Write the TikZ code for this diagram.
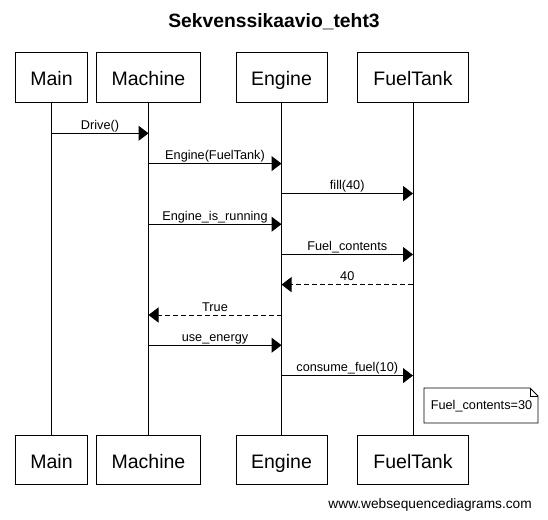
\documentclass[tikz,border=0pt]{standalone}
\usepackage{fontspec}
\setmainfont{Liberation Sans}
\usetikzlibrary{arrows.meta}
\begin{document}
\begin{tikzpicture}[x=1pt,y=-1pt,
  actor/.style={draw, line width=1pt, inner sep=0pt, minimum height=49pt,
    text height=16pt, text depth=0pt,
    font=\fontsize{19.5}{20}\selectfont},
  life/.style={line width=1pt},
  msg/.style={line width=1pt, -{Triangle[length=10pt,width=15pt]}},
  ret/.style={msg, dash pattern=on 5pt off 3pt},
  lbl/.style={midway, anchor=base, yshift=4pt, inner sep=0pt,
    font=\fontsize{12.7}{13}\selectfont},
  notebox/.style={line width=0.8pt, fill=white}
]
\useasboundingbox (0,0) rectangle (548,519);
\node[font=\bfseries\fontsize{19.3}{20}\selectfont, anchor=base] (title) at (274,28) {Sekvenssikaavio\_teht3};

% top actors
\node[actor, minimum width=72pt] (mainT) at (51.5,77.5) {Main};
\node[actor, minimum width=104pt] (machT) at (148.5,77.5) {Machine};
\node[actor, minimum width=91pt] (engT) at (281.5,77.5) {Engine};
\node[actor, minimum width=111pt] (fuelT) at (413,77.5) {FuelTank};
% bottom actors
\node[actor, minimum width=72pt] (mainB) at (51.5,460) {Main};
\node[actor, minimum width=104pt] (machB) at (148.5,460) {Machine};
\node[actor, minimum width=91pt] (engB) at (281.5,460) {Engine};
\node[actor, minimum width=111pt] (fuelB) at (413,460) {FuelTank};

% lifelines
\draw[life] (mainT.south) -- (mainB.north);
\draw[life] (machT.south) -- (machB.north);
\draw[life] (engT.south) -- (engB.north);
\draw[life] (fuelT.south) -- (fuelB.north);

% messages
\draw[msg] (mainT.south |- {0,133.3}) -- (machT.south |- {0,133.3}) node[lbl] {Drive()};
\draw[msg] (machT.south |- {0,163.6}) -- (engT.south |- {0,163.6}) node[lbl] {Engine(FuelTank)};
\draw[msg] (engT.south |- {0,193.5}) -- (fuelT.south |- {0,193.5}) node[lbl] {fill(40)};
\draw[msg] (machT.south |- {0,224.2}) -- (engT.south |- {0,224.2}) node[lbl] {Engine\_is\_running};
\draw[msg] (engT.south |- {0,254.5}) -- (fuelT.south |- {0,254.5}) node[lbl] {Fuel\_contents};
\draw[ret] (fuelT.south |- {0,284.6}) -- (engT.south |- {0,284.6}) node[lbl] {40};
\draw[ret] (engT.south |- {0,315}) -- (machT.south |- {0,315}) node[lbl] {True};
\draw[msg] (machT.south |- {0,345.2}) -- (engT.south |- {0,345.2}) node[lbl] {use\_energy};
\draw[msg] (engT.south |- {0,375.6}) -- (fuelT.south |- {0,375.6}) node[lbl] {consume\_fuel(10)};

% note
\draw[notebox] (424,388) -- (530,388) -- (538,396) -- (538,423) -- (424,423) -- cycle;
\draw[line width=0.8pt] (530,388) -- (530,396) -- (538,396);
\node[font=\fontsize{12.7}{13}\selectfont, inner sep=0pt] (note) at (481.5,406) {Fuel\_contents=30};

% footer
\node[font=\fontsize{13.7}{14}\selectfont, anchor=base east, inner sep=0pt] (web) at (532,508) {www.websequencediagrams.com};
\end{tikzpicture}
\end{document}
